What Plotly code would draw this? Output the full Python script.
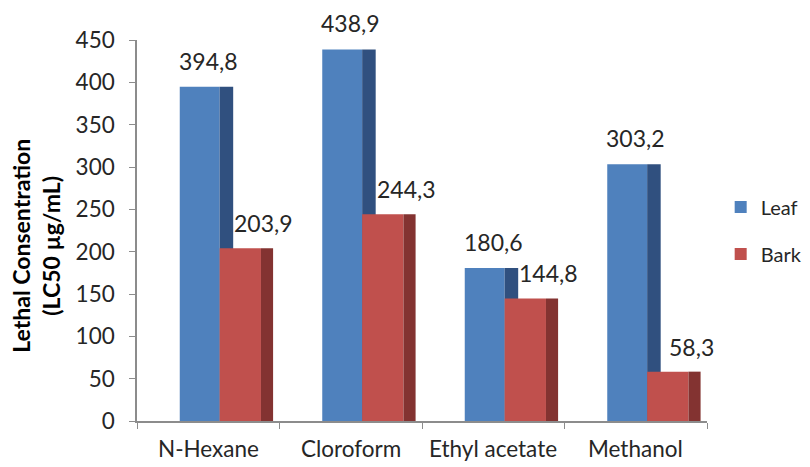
import plotly.graph_objects as go

categories = ["N-Hexane", "Cloroform", "Ethyl acetate", "Methanol"]
leaf = [394.8, 438.9, 180.6, 303.2]
bark = [203.9, 244.3, 144.8, 58.3]
y_ticks = [0, 50, 100, 150, 200, 250, 300, 350, 400, 450]

FONT = "Lato"
TXT = "#262626"
AX = "#8c8c8c"

xpos = list(range(len(categories)))

fig = go.Figure()

# Leaf front face
fig.add_trace(go.Bar(x=xpos, y=leaf, name="Leaf", offset=-0.20, width=0.28,
                     marker=dict(color="#4F81BD", line=dict(width=0)),
                     legendgroup="leaf", hoverinfo="skip"))
# Leaf side face
fig.add_trace(go.Bar(x=xpos, y=leaf, name="Leaf side", offset=0.08, width=0.095,
                     marker=dict(color="#30507F", line=dict(width=0)),
                     showlegend=False, hoverinfo="skip"))
# Bark front face
fig.add_trace(go.Bar(x=xpos, y=bark, name="Bark", offset=0.08, width=0.29,
                     marker=dict(color="#C0504D", line=dict(width=0)),
                     legendgroup="bark", hoverinfo="skip"))
# Bark side face
fig.add_trace(go.Bar(x=xpos, y=bark, name="Bark side", offset=0.37, width=0.085,
                     marker=dict(color="#833331", line=dict(width=0)),
                     showlegend=False, hoverinfo="skip"))

def fmt(v):
    return f"{v:.1f}".replace(".", ",")

annotations = []
for i, v in enumerate(leaf):
    annotations.append(dict(x=i + 0.0, y=v, xref="x", yref="y", text=fmt(v),
                            showarrow=False, yshift=26, yanchor="middle",
                            xanchor="center",
                            font=dict(family=FONT, size=23, color=TXT)))
for i, v in enumerate(bark):
    annotations.append(dict(x=i + 0.39, y=v, xref="x", yref="y", text=fmt(v),
                            showarrow=False, yshift=25, yanchor="middle",
                            xanchor="center",
                            font=dict(family=FONT, size=23, color=TXT)))
for i, c in enumerate(categories):
    annotations.append(dict(x=i, y=0, xref="x", yref="paper", text=c,
                            showarrow=False, yshift=-27, yanchor="middle",
                            xanchor="center",
                            font=dict(family=FONT, size=22.5, color=TXT)))
# y-axis title (two lines, rotated)
annotations.append(dict(x=-101 / 570, y=0.46, xref="paper", yref="paper",
                        text="<b>Lethal Consentration<br>(LC50 µg/mL)</b>",
                        textangle=-90, showarrow=False, xanchor="center",
                        yanchor="middle",
                        font=dict(family=FONT, size=23, color="#000000")))

fig.update_layout(
    width=810, height=467,
    margin=dict(l=137, r=103, t=40, b=46, autoexpand=False),
    paper_bgcolor="white", plot_bgcolor="white",
    barmode="overlay",
    showlegend=True,
    legend=dict(x=1.024, y=0.50, xanchor="left", yanchor="middle",
                traceorder="grouped", tracegroupgap=18,
                font=dict(family=FONT, size=20, color=TXT),
                bgcolor="rgba(0,0,0,0)"),
    xaxis=dict(range=[-0.5, 3.5], tickvals=[-0.5, 0.5, 1.5, 2.5, 3.5],
               ticktext=["", "", "", "", ""], ticks="outside", ticklen=6,
               tickcolor=AX, showline=True, linecolor=AX, linewidth=1.5,
               showgrid=False, zeroline=False, fixedrange=True,
               automargin=False),
    yaxis=dict(range=[0, 450], tickvals=y_ticks, ticks="outside", ticklen=6,
               tickcolor=AX, showline=True, linecolor=AX, linewidth=1.5,
               showgrid=False, zeroline=False, ticklabelstandoff=10,
               automargin=False,
               tickfont=dict(family=FONT, size=22.5, color=TXT)),
    annotations=annotations,
)

fig.write_html("out.html")
